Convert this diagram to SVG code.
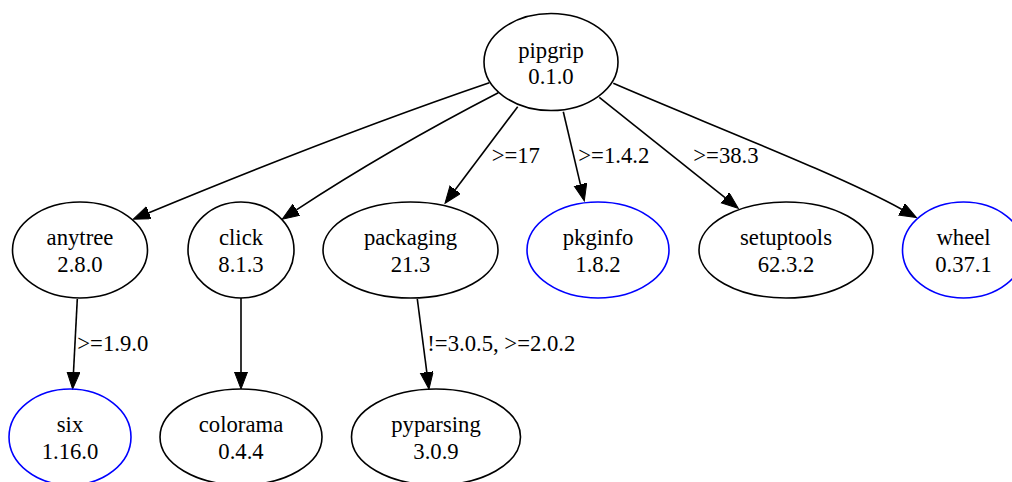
<svg xmlns="http://www.w3.org/2000/svg" width="1012" height="482" viewBox="0 0 1012 482">
  <style>
    .node ellipse { fill: none; stroke: #000000; stroke-width: 1.6; }
    .node.pinned ellipse { stroke: #0000ff; }
    text { font-family: "Liberation Serif", "Times New Roman", serif; font-size: 22.7px; fill: #000000; }
    .node text { text-anchor: middle; }
    .edge { fill: none; stroke: #000000; stroke-width: 1.6; marker-end: url(#arrow); }
  </style>
  <defs>
    <marker id="arrow" markerUnits="userSpaceOnUse" markerWidth="18" markerHeight="14" refX="0" refY="6.5" orient="auto">
      <path d="M0,0 L17,6.5 L0,13 Z" fill="#000000" stroke="#000000" stroke-width="1"/>
    </marker>
  </defs>
  <rect x="0" y="0" width="1012" height="482" fill="#ffffff"/>

  <!-- dependency edges -->
  <g id="edges">
    <path class="edge" d="M489.3,82.7 C379,120.4 249,171.3 148.9,212.7"/>
    <path class="edge" d="M498.3,92.7 C430,128 360,168 296.4,209.8"/>
    <path class="edge" d="M517.7,106.7 L455.2,189.7"/>
    <path class="edge" d="M563.3,111.7 L580.4,184.4"/>
    <path class="edge" d="M599.3,97.3 L725,197.7"/>
    <path class="edge" d="M613.3,83.3 C700,121 840,175 901.6,209.3"/>
    <path class="edge" d="M77.3,299 L73.5,372"/>
    <path class="edge" d="M241,298 L241,372"/>
    <path class="edge" d="M417.3,299 L426.8,372.2"/>
    <text x="491.7" y="163">&gt;=17</text>
    <text x="578.3" y="163">&gt;=1.4.2</text>
    <text x="693.3" y="163">&gt;=38.3</text>
    <text x="77.3" y="351">&gt;=1.9.0</text>
    <text x="427.3" y="351">!=3.0.5, &gt;=2.0.2</text>
  </g>

  <g id="pipgrip" class="node">
    <ellipse cx="551" cy="62" rx="67" ry="48.5"/>
    <text x="551" y="58">pipgrip</text>
    <text x="551" y="84">0.1.0</text>
  </g>
  <g id="anytree" class="node">
    <ellipse cx="80" cy="250" rx="67.5" ry="48"/>
    <text x="80" y="245">anytree</text>
    <text x="80" y="272">2.8.0</text>
  </g>
  <g id="click" class="node">
    <ellipse cx="241" cy="250" rx="53" ry="48"/>
    <text x="241" y="245">click</text>
    <text x="241" y="272">8.1.3</text>
  </g>
  <g id="packaging" class="node">
    <ellipse cx="410.5" cy="250" rx="87.5" ry="48"/>
    <text x="410.5" y="245">packaging</text>
    <text x="410.5" y="272">21.3</text>
  </g>
  <g id="pkginfo" class="node pinned">
    <ellipse cx="598" cy="250" rx="71" ry="48"/>
    <text x="598" y="245">pkginfo</text>
    <text x="598" y="272">1.8.2</text>
  </g>
  <g id="setuptools" class="node">
    <ellipse cx="786" cy="250" rx="87" ry="48"/>
    <text x="786" y="245">setuptools</text>
    <text x="786" y="272">62.3.2</text>
  </g>
  <g id="wheel" class="node pinned">
    <ellipse cx="963.5" cy="250" rx="61" ry="48"/>
    <text x="963.5" y="245">wheel</text>
    <text x="963.5" y="272">0.37.1</text>
  </g>
  <g id="six" class="node pinned">
    <ellipse cx="70" cy="437" rx="61" ry="48"/>
    <text x="70" y="432">six</text>
    <text x="70" y="459">1.16.0</text>
  </g>
  <g id="colorama" class="node">
    <ellipse cx="241" cy="437" rx="81" ry="48"/>
    <text x="241" y="432">colorama</text>
    <text x="241" y="459">0.4.4</text>
  </g>
  <g id="pyparsing" class="node">
    <ellipse cx="436" cy="437" rx="84.5" ry="48"/>
    <text x="436" y="432">pyparsing</text>
    <text x="436" y="459">3.0.9</text>
  </g>
</svg>
